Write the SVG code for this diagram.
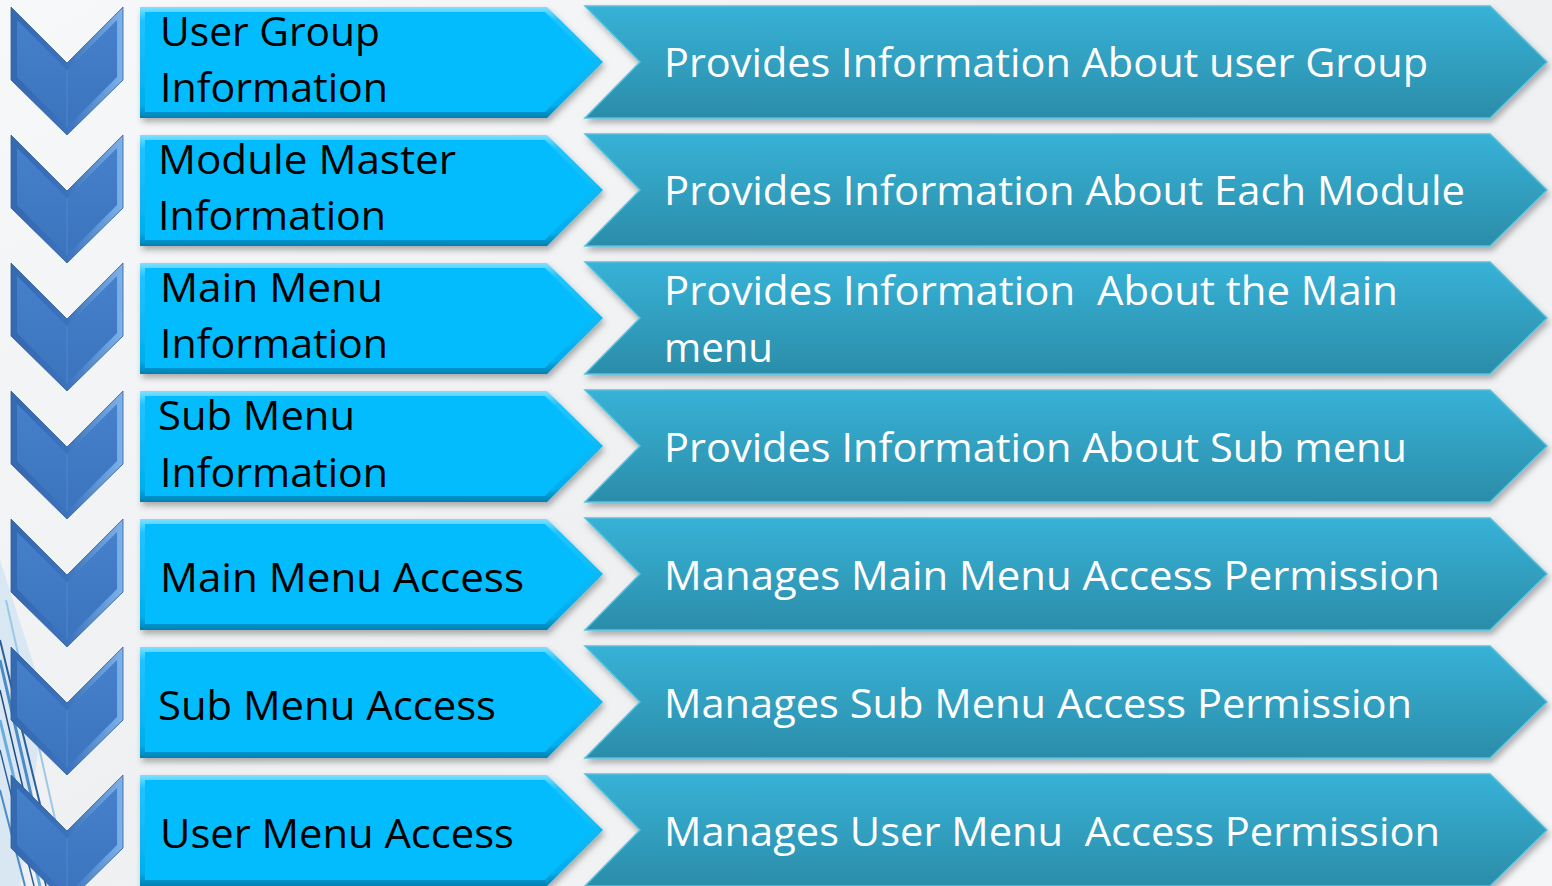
<svg xmlns="http://www.w3.org/2000/svg" xmlns:xlink="http://www.w3.org/1999/xlink" width="1552" height="886" viewBox="0 0 1552 886">
<defs>
<linearGradient id="bg" x1="0" y1="0" x2="1" y2="1">
<stop offset="0" stop-color="#f7f8f9"/><stop offset="0.5" stop-color="#eef0f2"/><stop offset="1" stop-color="#f5f6f7"/>
</linearGradient>
<linearGradient id="chevOuter" x1="0" y1="0" x2="1" y2="0">
<stop offset="0" stop-color="#3569B0"/><stop offset="0.5" stop-color="#3A72BC"/><stop offset="1" stop-color="#7FB2EA"/>
</linearGradient>
<linearGradient id="chevInner" x1="0" y1="0" x2="0" y2="1">
<stop offset="0" stop-color="#4580CA"/><stop offset="1" stop-color="#3C74BE"/>
</linearGradient>
<linearGradient id="boxOuter" x1="0" y1="0" x2="0" y2="1">
<stop offset="0" stop-color="#7FE0FF"/><stop offset="0.12" stop-color="#1FC4FF"/><stop offset="0.88" stop-color="#00AEEA"/><stop offset="1" stop-color="#0080B2"/>
</linearGradient>
<linearGradient id="teal" x1="0" y1="0" x2="0" y2="1">
<stop offset="0" stop-color="#37B2D7"/><stop offset="1" stop-color="#2B8DA9"/>
</linearGradient>
<filter id="sh" x="-5%" y="-10%" width="115%" height="130%">
<feDropShadow dx="2" dy="4" stdDeviation="3" flood-color="#000" flood-opacity="0.3"/>
</filter>
<g id="chev">
<path d="M11,7 L67,63 L123,7 L123,80 L67,135 L11,80 Z" fill="url(#chevOuter)" stroke="#2E5E9E" stroke-width="0.8"/>
<path d="M17,20 L67,70 L117,20 L117,77 L67,127 L17,77 Z" fill="url(#chevInner)"/>
<path d="M67,70 L67,127" stroke="#5C90D4" stroke-width="1" opacity="0.6"/>
</g>
<g id="box">
<path d="M140,7 L547,7 L603,62 L547,118 L140,118 Z" fill="url(#boxOuter)" filter="url(#sh)"/>
<path d="M145,12 L545,12 L595,62 L545,112 L145,112 Z" fill="#02BCFD"/>
</g>
<g id="arrow">
<path d="M585,6 L1490,6 L1547,62 L1490,118 L585,118 L640,62 Z" fill="url(#teal)" stroke="#58C0DF" stroke-width="1.5" filter="url(#sh)"/>
</g>
</defs>
<style>
.lt{font-family:"Open Sans","Liberation Sans",sans-serif;font-size:40px;fill:#000;}
.rt{font-family:"Open Sans","Liberation Sans",sans-serif;font-size:40px;fill:#fff;}
</style>
<rect width="1552" height="886" fill="url(#bg)"/>
<g id="background-art" fill="none">
<path d="M0,560 L45,700 L20,886 L0,886 Z" fill="#cfe3f2" opacity="0.7" stroke="none"/>
<path d="M0,640 L60,886" stroke="#2c5f96" stroke-width="2"/>
<path d="M0,660 L52,886" stroke="#4a8bc8" stroke-width="3"/>
<path d="M0,690 L46,886" stroke="#1f4a7a" stroke-width="1.5"/>
<path d="M0,720 L40,886" stroke="#6aaee0" stroke-width="3"/>
<path d="M0,750 L34,886" stroke="#2c5f96" stroke-width="1.5"/>
<path d="M0,790 L25,886" stroke="#4a8bc8" stroke-width="2"/>
<path d="M6,600 L70,886" stroke="#9cc8e8" stroke-width="2"/>
</g>
<g id="row1">
<use href="#chev"/><use href="#box"/><use href="#arrow"/>
<text class="lt" x="160" y="46" textLength="220" lengthAdjust="spacingAndGlyphs">User Group</text>
<text class="lt" x="160" y="102" textLength="228" lengthAdjust="spacingAndGlyphs">Information</text>
<text class="rt" x="664" y="77" textLength="764" lengthAdjust="spacingAndGlyphs">Provides Information About user Group</text>
</g>
<g id="row2" transform="translate(0,128)">
<use href="#chev"/><use href="#box"/><use href="#arrow"/>
<text class="lt" x="158" y="46" textLength="298" lengthAdjust="spacingAndGlyphs">Module Master</text>
<text class="lt" x="158" y="102" textLength="228" lengthAdjust="spacingAndGlyphs">Information</text>
<text class="rt" x="664" y="77" textLength="801" lengthAdjust="spacingAndGlyphs">Provides Information About Each Module</text>
</g>
<g id="row3" transform="translate(0,256)">
<use href="#chev"/><use href="#box"/><use href="#arrow"/>
<text class="lt" x="160" y="46" textLength="223" lengthAdjust="spacingAndGlyphs">Main Menu</text>
<text class="lt" x="160" y="102" textLength="228" lengthAdjust="spacingAndGlyphs">Information</text>
<text class="rt" x="664" y="49" textLength="734" lengthAdjust="spacingAndGlyphs" xml:space="preserve">Provides Information  About the Main</text>
<text class="rt" x="664" y="106" textLength="109" lengthAdjust="spacingAndGlyphs">menu</text>
</g>
<g id="row4" transform="translate(0,384)">
<use href="#chev"/><use href="#box"/><use href="#arrow"/>
<text class="lt" x="158" y="46" textLength="197" lengthAdjust="spacingAndGlyphs">Sub Menu</text>
<text class="lt" x="160" y="103" textLength="228" lengthAdjust="spacingAndGlyphs">Information</text>
<text class="rt" x="664" y="78" textLength="743" lengthAdjust="spacingAndGlyphs">Provides Information About Sub menu</text>
</g>
<g id="row5" transform="translate(0,512)">
<use href="#chev"/><use href="#box"/><use href="#arrow"/>
<text class="lt" x="160" y="80" textLength="364" lengthAdjust="spacingAndGlyphs">Main Menu Access</text>
<text class="rt" x="664" y="78" textLength="776" lengthAdjust="spacingAndGlyphs">Manages Main Menu Access Permission</text>
</g>
<g id="row6" transform="translate(0,640)">
<use href="#chev"/><use href="#box"/><use href="#arrow"/>
<text class="lt" x="158" y="80" textLength="338" lengthAdjust="spacingAndGlyphs">Sub Menu Access</text>
<text class="rt" x="664" y="78" textLength="748" lengthAdjust="spacingAndGlyphs">Manages Sub Menu Access Permission</text>
</g>
<g id="row7" transform="translate(0,768)">
<use href="#chev"/><use href="#box"/><use href="#arrow"/>
<text class="lt" x="160" y="80" textLength="354" lengthAdjust="spacingAndGlyphs">User Menu Access</text>
<text class="rt" x="664" y="78" textLength="776" lengthAdjust="spacingAndGlyphs" xml:space="preserve">Manages User Menu  Access Permission</text>
</g>
</svg>
